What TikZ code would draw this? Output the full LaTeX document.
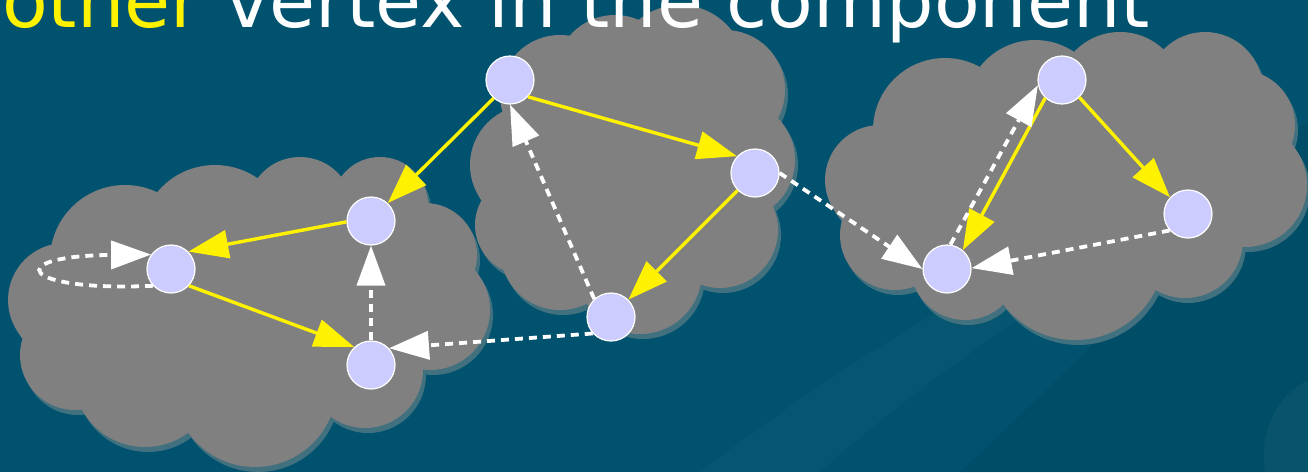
\documentclass[tikz,border=0pt]{standalone}
\usepackage{fontspec}
\setmainfont{DejaVu Sans}
\usetikzlibrary{arrows.meta}
\definecolor{bgc}{HTML}{01526F}
\definecolor{bgd}{HTML}{004761}
\definecolor{cloudc}{HTML}{808080}
\definecolor{shadc}{HTML}{41707F}
\definecolor{vtx}{HTML}{CCCCFF}
\tikzset{
  vertex/.style={circle,fill=vtx,draw=white,line width=1.2pt,minimum size=48pt,inner sep=0pt},
  yedge/.style={draw=yellow,line width=3.4pt,-{Triangle[length=40pt,width=28pt]},fill=yellow},
  wedge/.style={draw=white,line width=3.8pt,dash pattern=on 8pt off 6pt,-{Triangle[length=40pt,width=28pt,fill=white]}}
}
\newcommand{\cloudA}{%
  \fill (125,260) circle (75); \fill (215,240) circle (75); \fill (300,210) circle (53);
  \fill (380,205) circle (48); \fill (425,255) circle (52); \fill (430,310) circle (60);
  \fill (365,370) circle (58); \fill (255,385) circle (82); \fill (145,375) circle (72);
  \fill (75,355) circle (55); \fill (65,300) circle (57); \fill (260,300) ellipse (170 and 110);}
\newcommand{\cloudB}{%
  \fill (560,95) circle (60); \fill (615,75) circle (60); \fill (680,70) circle (65);
  \fill (725,90) circle (60); \fill (735,160) circle (60); \fill (720,230) circle (58);
  \fill (640,272) circle (62); \fill (560,250) circle (60); \fill (525,225) circle (50);
  \fill (530,165) circle (60); \fill (630,170) circle (110);}
\newcommand{\cloudC}{%
  \fill (880,180) circle (55); \fill (945,130) circle (72); \fill (1035,110) circle (70);
  \fill (1120,95) circle (63); \fill (1205,90) circle (58); \fill (1240,125) circle (55);
  \fill (1245,185) circle (62); \fill (1185,240) circle (58); \fill (1075,250) circle (90);
  \fill (965,265) circle (55); \fill (895,235) circle (55); \fill (1065,180) circle (110);
  \fill (1065,185) ellipse (190 and 110);}
\begin{document}
\begin{tikzpicture}[x=1pt,y=-1pt]
\useasboundingbox (0,0) rectangle (1308,472);
\fill[bgc] (0,0) rectangle (1308,472);
% subtle background bands
\fill[bgd,opacity=0.45] (1308,120) -- (1308,472) -- (960,472) .. controls (1080,360) and (1200,240) .. cycle;
\fill[white,opacity=0.025] (700,472) .. controls (820,380) and (950,300) .. (1050,250) -- (1120,250) .. controls (1000,330) and (900,400) .. (820,472) -- cycle;
\fill[white,opacity=0.04] (1308,380) .. controls (1270,400) and (1260,440) .. (1265,472) -- (1308,472) -- cycle;
% clouds
\begin{scope}[shift={(3,5)},shadc]\cloudA\cloudB\cloudC\end{scope}
\begin{scope}[cloudc]\cloudA\cloudB\cloudC\end{scope}
% title
\node[anchor=base west,inner sep=0pt,text=white,font=\fontsize{74.8}{80}\selectfont] (title) at (2,27) {\textcolor{yellow}{other} vertex in the component};
% vertices
\node[vertex] (A) at (171,269) {};
\node[vertex] (B) at (371,221) {};
\node[vertex] (C) at (371,365) {};
\node[vertex] (D) at (510,80) {};
\node[vertex] (E) at (755,173) {};
\node[vertex] (F) at (611,317) {};
\node[vertex] (G) at (1062,80) {};
\node[vertex] (H) at (1188,214) {};
\node[vertex] (I) at (947,269) {};
% yellow edges
\draw[yedge] (D.228) -- (B.47);
\draw[yedge] (B.182) -- (A.45);
\draw[yedge] (A.-43) -- (C.133);
\draw[yedge] (D.-43) -- (E.137);
\draw[yedge] (E.225) -- (F.45);
\draw[yedge] (G.227) -- (I.50);
\draw[yedge] (G.-45) -- (H.137);
% white dashed edges
\draw[wedge] (C.north) -- (B.south);
\draw[wedge] (F.222) -- (C.43);
\draw[wedge] (F.133) -- (D.south);
\draw[wedge] (E.east) -- (I.west);
\draw[wedge] (I.82) -- (G.192);
\draw[wedge] (H.222) -- (I.2);
\draw[wedge] (A.223) .. controls (20,292) and (0,256) .. (A.144);
\end{tikzpicture}
\end{document}
